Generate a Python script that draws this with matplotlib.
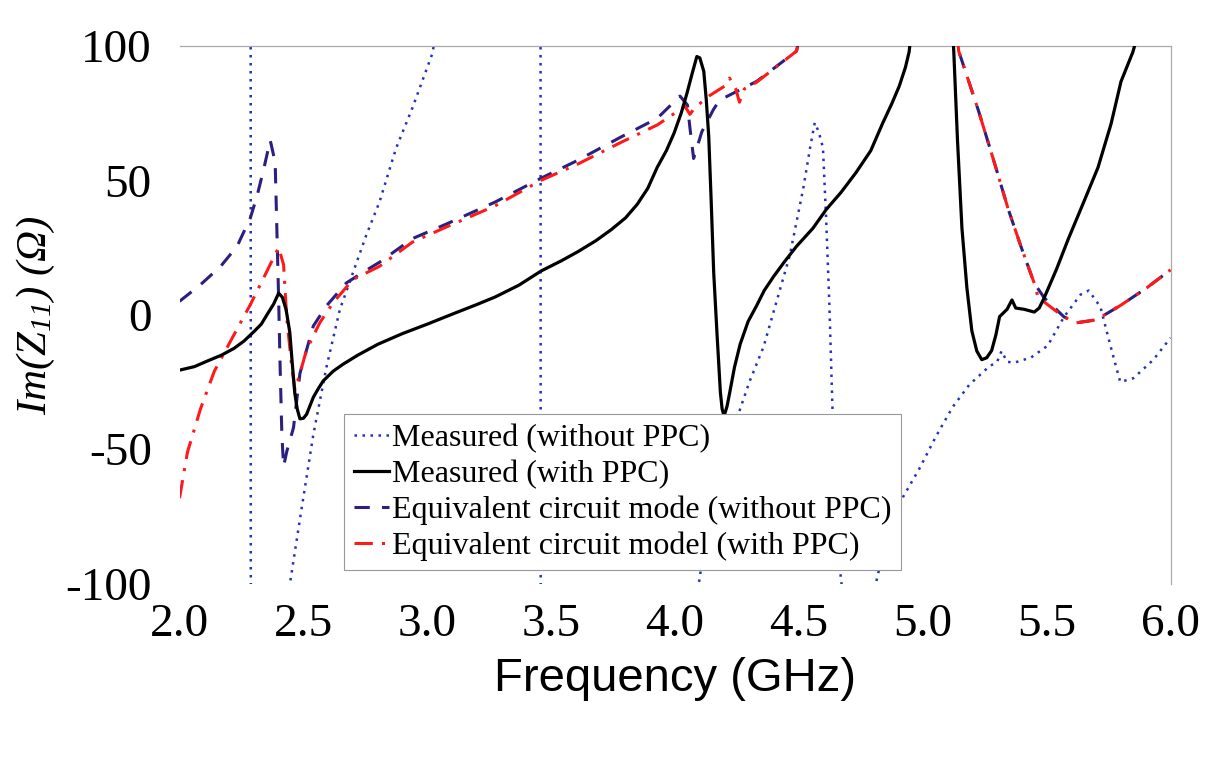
import matplotlib
matplotlib.use("Agg")
import matplotlib.pyplot as plt

plt.rcParams['axes.unicode_minus'] = False
plt.rcParams['mathtext.fontset'] = 'custom'
plt.rcParams['mathtext.rm'] = 'Liberation Serif:italic'
plt.rcParams['mathtext.it'] = 'Liberation Serif:italic'

# ---------------- data (tilt-corrected) ----------------
# Measured (without PPC)
f_meas_wo = [2.00, 2.20, 2.285, 2.29, 2.35, 2.433, 2.486, 2.54, 2.593, 2.647, 2.70,
             2.753, 2.807, 2.874, 2.94, 3.02, 3.15, 3.35, 3.455, 3.46, 3.70, 4.00,
             4.12, 4.20, 4.25, 4.30, 4.357, 4.41, 4.463, 4.517, 4.545, 4.564, 4.58,
             4.597, 4.61, 4.623, 4.637, 4.66, 4.69, 4.74, 4.79, 4.858, 4.92, 4.987,
             5.054, 5.12, 5.187, 5.267, 5.30, 5.318, 5.34, 5.37, 5.437, 5.504, 5.57,
             5.637, 5.67, 5.717, 5.757, 5.797, 5.85, 5.93, 6.00]
z_meas_wo = [160, 260, 900, -900, -300, -107.5, -76, -44.6, -19.5, 1.9, 15.6,
             29.4, 41.9, 61.9, 76.9, 97, 160, 350, 900, -900, -400, -160,
             -85, -52, -38.5, -25, -12, 5, 22, 46.7, 62, 71.4, 68,
             62.1, 35.5, 3.7, -39.4, -90, -115, -125, -108, -81.1, -67.8, -57.1,
             -45.1, -34.4, -26.1, -19.3, -17.5, -13.5, -17.5, -17.8, -15.9, -11.5, -0.8,
             7.5, 9, 2.9, -11.4, -25, -23.6, -16.8, -8.6]

# Measured (with PPC)
f_meas_w = [2.00, 2.06, 2.11, 2.17, 2.22, 2.26, 2.30, 2.33, 2.353, 2.38, 2.40,
            2.415, 2.43, 2.445, 2.455, 2.465, 2.475, 2.486, 2.50, 2.513, 2.54, 2.56,
            2.58, 2.62, 2.66, 2.72, 2.80, 2.90, 3.00, 3.114, 3.20, 3.274, 3.37,
            3.46, 3.54, 3.607, 3.68, 3.742, 3.80, 3.847, 3.89, 3.928, 3.965, 3.996,
            4.025, 4.048, 4.07, 4.088, 4.10, 4.116, 4.126, 4.136, 4.146, 4.156, 4.17,
            4.183, 4.19, 4.198, 4.21, 4.22, 4.24, 4.263, 4.295, 4.33, 4.36, 4.397,
            4.44, 4.49, 4.557, 4.61, 4.67, 4.73, 4.79, 4.838, 4.875, 4.905, 4.93,
            4.945, 4.97, 5.03, 5.08, 5.11, 5.125, 5.14, 5.158, 5.178, 5.198, 5.218,
            5.238, 5.258, 5.278, 5.295, 5.31, 5.34, 5.36, 5.375, 5.41, 5.45, 5.47,
            5.49, 5.54, 5.587, 5.65, 5.707, 5.76, 5.80, 5.848, 5.90, 6.00]
z_meas_w = [-20.6, -19.3, -17.3, -15, -12.5, -9.8, -6.3, -3.5, 0, 4, 8,
            6.5, 2, -6.5, -18, -29, -35, -38.7, -38.5, -37, -30.7, -27.5,
            -24.6, -21, -18.4, -15, -11, -7, -3.5, 0.7, 3.8, 6.6, 11,
            16.3, 20, 23.4, 27.5, 31.6, 36, 41, 47, 54.8, 61, 67.5,
            75, 82.3, 90, 96, 95.5, 90.5, 80, 66.4, 42, 15.8, -8,
            -28.8, -35, -37.7, -34, -29.3, -19.5, -10.9, -2.5, 3.5, 9, 14.1,
            19.5, 25.4, 32.2, 39.1, 45.5, 52.8, 61, 71.2, 78.5, 85, 92,
            97.8, 120, 180, 170, 125, 98, 65, 32.2, 10, -6, -13.5,
            -16.7, -16, -13.3, -7.5, -0.7, 2, 5.5, 2.5, 2, 1, 2.5,
            6.3, 17, 28.1, 42, 54.7, 71, 86.7, 97.7, 115, 140]

# Equivalent circuit mode (without PPC)
f_eq_wo = [2.00, 2.085, 2.166, 2.232, 2.286, 2.313, 2.34, 2.366, 2.386, 2.393, 2.40,
           2.406, 2.413, 2.42, 2.433, 2.46, 2.486, 2.54, 2.593, 2.673, 2.753, 2.807,
           2.94, 3.074, 3.274, 3.46, 3.607, 3.78, 3.928, 4.02, 4.05, 4.06, 4.075,
           4.108, 4.155, 4.18, 4.33, 4.49, 4.60, 4.80, 5.00, 5.10, 5.145, 5.225,
           5.29, 5.345, 5.398, 5.45, 5.49, 5.57, 5.62, 5.70, 5.797, 5.904, 6.00]
z_eq_wo = [5, 11.2, 18, 25.4, 36, 44.2, 54.2, 64.9, 56.7, 31.4, 6,
           -19.2, -44.4, -56.4, -50.8, -42, -21.8, -4.2, 3.3, 11.8, 16.5, 19.5,
           28.3, 33.6, 41.9, 50.8, 57.4, 66, 73, 81.3, 78, 69.6, 58.1,
           68, 76.3, 79.8, 86.8, 98, 140, 250, 250, 140, 98, 75.8,
           56.2, 39.2, 24.9, 11.7, 6.3, -0.8, -3, -1.9, 3.4, 10, 16.7]

# Equivalent circuit model (with PPC)
f_eq_w = [2.00, 2.032, 2.085, 2.14, 2.22, 2.286, 2.34, 2.38, 2.40, 2.42, 2.433,
          2.453, 2.466, 2.486, 2.513, 2.566, 2.62, 2.70, 2.807, 2.94, 3.074, 3.274,
          3.46, 3.607, 3.78, 3.929, 4.04, 4.06, 4.08, 4.14, 4.20, 4.22, 4.245,
          4.26, 4.28, 4.33, 4.49, 4.60, 4.80, 5.00, 5.10, 5.145, 5.225, 5.29,
          5.345, 5.398, 5.45, 5.465, 5.55, 5.57, 5.62, 5.70, 5.797, 5.904, 6.00]
z_eq_w = [-68.2, -51.1, -34.9, -21.1, -7.4, 3.8, 13.8, 21.3, 25, 18.6, -1.5,
          -19.2, -28, -21.8, -13, -3, 4.5, 13.1, 18, 27, 32.5, 40.5,
          50, 56, 64, 70.6, 77.5, 74.5, 77, 81.5, 85, 88, 84,
          79, 84, 86.5, 98, 140, 250, 250, 140, 98, 75.8, 56.2,
          39.2, 24.9, 11.7, 6.5, 0.5, -0.8, -3, -1.9, 3.4, 10, 16.7]

labels = ["Measured (without PPC)",
          "Measured (with PPC)",
          "Equivalent circuit mode (without PPC)",
          "Equivalent circuit model (with PPC)"]

x_ticks = [2.0, 2.5, 3.0, 3.5, 4.0, 4.5, 5.0, 5.5, 6.0]
x_tick_labels = ["2.0", "2.5", "3.0", "3.5", "4.0", "4.5", "5.0", "5.5", "6.0"]
y_ticks = [-100, -50, 0, 50, 100]
y_tick_labels = ["-100", "-50", "0", "50", "100"]

# ---------------- figure ----------------
fig = plt.figure(figsize=(12.13, 7.63), dpi=100)
ax = fig.add_axes([0.148, 0.235, 0.817, 0.705])

serif = "Liberation Serif"

l1, = ax.plot(f_meas_wo, z_meas_wo, color="#2233bb", lw=1.8,
              linestyle=(0, (1, 2.2)), zorder=2)
l3, = ax.plot(f_eq_wo, z_eq_wo, color="#2b1f80", lw=2.2,
              linestyle=(0, (5, 4)), zorder=3)
l4, = ax.plot(f_eq_w, z_eq_w, color="#ff1a1a", lw=2.2,
              linestyle=(0, (6, 3, 1, 3)), zorder=4)
l2, = ax.plot(f_meas_w, z_meas_w, color="black", lw=2.3, zorder=5)

ax.set_xlim(2.0, 6.0)
ax.set_ylim(-100, 100)
ax.set_xticks(x_ticks)
ax.set_xticklabels(x_tick_labels, fontfamily=serif, fontsize=34)
ax.set_yticks(y_ticks)
ax.set_yticklabels(y_tick_labels, fontfamily=serif, fontsize=34)
ax.tick_params(axis="both", length=0)
ax.tick_params(axis="y", pad=20)
ax.tick_params(axis="x", pad=14)

for side in ("left", "bottom"):
    ax.spines[side].set_visible(False)
for side in ("top", "right"):
    ax.spines[side].set_color("#aaaaaa")
    ax.spines[side].set_linewidth(0.9)

ax.set_xlabel("Frequency (GHz)", fontfamily="Liberation Sans", fontsize=34, labelpad=8)
ax.set_ylabel(r"$Im(Z_{11})\ (\Omega)$", fontsize=31, labelpad=6)

leg = ax.legend([l1, l2, l3, l4], labels, loc="lower left",
                bbox_to_anchor=(0.15, -0.005), prop={"family": serif, "size": 23},
                handlelength=1.1, handletextpad=0.1, labelspacing=0.2,
                borderpad=0.3, fancybox=False, framealpha=1.0, edgecolor="#999999")
leg.get_frame().set_linewidth(0.8)
leg.set_zorder(10)

fig.savefig("out.png", dpi=100, facecolor="white")
